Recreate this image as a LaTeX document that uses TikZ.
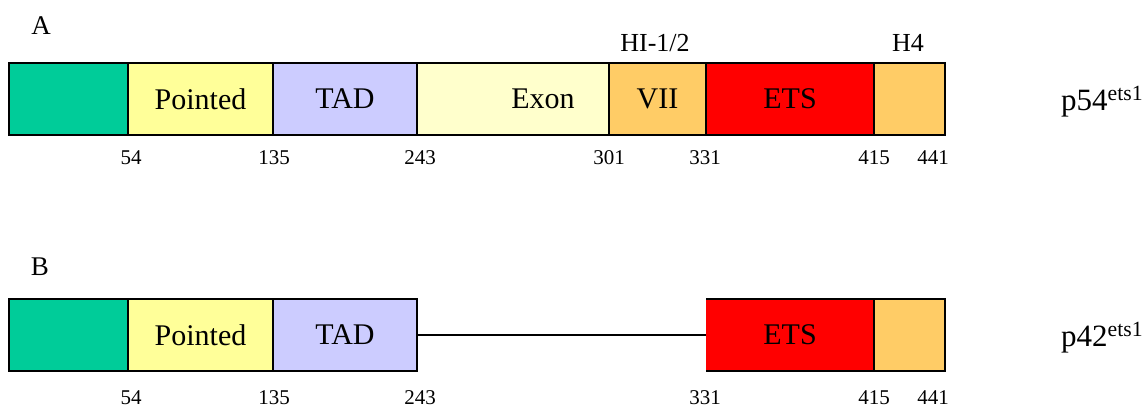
\documentclass[tikz,border=0pt]{standalone}
\usepackage{fontspec}
\setmainfont{Liberation Serif}
\definecolor{cgreen}{HTML}{00CC99}
\definecolor{cpoint}{HTML}{FFFF99}
\definecolor{ctad}{HTML}{CCCCFF}
\definecolor{cexon}{HTML}{FFFFCC}
\definecolor{corange}{HTML}{FFCC66}
\definecolor{cred}{HTML}{FF0000}
\tikzset{
  box/.style={draw=black, line width=1.5pt, minimum height=72pt, inner sep=0pt, outer sep=0pt,
    anchor=north west, font=\fontsize{30}{36}\selectfont},
  num/.style={font=\fontsize{21}{25}\selectfont, inner sep=0pt},
  toplab/.style={font=\fontsize{26}{30}\selectfont, inner sep=0pt},
  panel/.style={font=\fontsize{27}{32}\selectfont, inner sep=0pt},
  prot/.style={font=\fontsize{31}{36}\selectfont, inner sep=0pt, anchor=base west},
}
\begin{document}
\begin{tikzpicture}[x=1pt,y=-1pt]
\path[use as bounding box] (0,0) rectangle (1148,408);
% Panel A
\node[panel] (la) at (41,26) {A};
\node[box, fill=cgreen, minimum width=119pt] (g1) at (9,63) {};
\node[box, fill=cpoint, minimum width=145pt] (p1) at (128,63) {Pointed};
\node[box, fill=ctad, minimum width=144pt] (t1) at (273,63) {TAD};
\node[box, fill=cexon, minimum width=192pt] (e1) at (417,63) {};
\node[font=\fontsize{30}{36}\selectfont, inner sep=0pt] (ex1) at (543,99) {Exon};
\node[box, fill=corange, minimum width=97pt] (v1) at (609,63) {VII};
\node[box, fill=cred, minimum width=168pt] (s1) at (706,63) {ETS};
\node[box, fill=corange, minimum width=71pt] (h1) at (874,63) {};
\node[toplab] (hi) at (655,43) {HI-1/2};
\node[toplab] (h4) at (908,43) {H4};
\node[num] (a54) at (131,158) {54};
\node[num] (a135) at (274,158) {135};
\node[num] (a243) at (420,158) {243};
\node[num] (a301) at (609,158) {301};
\node[num] (a331) at (705,158) {331};
\node[num] (a415) at (874,158) {415};
\node[num] (a441) at (933,158) {441};
\node[prot] (pa) at (1061,110) {p54\textsuperscript{ets1}};
% Panel B
\node[panel] (lb) at (40,267) {B};
\node[box, fill=cgreen, minimum width=119pt] (g2) at (9,299) {};
\node[box, fill=cpoint, minimum width=145pt] (p2) at (128,299) {Pointed};
\node[box, fill=ctad, minimum width=144pt] (t2) at (273,299) {TAD};
\node[box, draw=none, fill=cred, minimum width=168pt] (s2) at (706,299) {ETS};
\draw[line width=1.5pt] (s2.north west) -- (s2.north east) -- (s2.south east) -- (s2.south west);
\node[box, fill=corange, minimum width=71pt] (h2) at (874,299) {};
\draw[line width=1.5pt] (t2.east) -- (s2.west);
\node[num] (b54) at (131,398) {54};
\node[num] (b135) at (274,398) {135};
\node[num] (b243) at (420,398) {243};
\node[num] (b331) at (705,398) {331};
\node[num] (b415) at (874,398) {415};
\node[num] (b441) at (933,398) {441};
\node[prot] (pb) at (1061,346) {p42\textsuperscript{ets1}};
\end{tikzpicture}
\end{document}
